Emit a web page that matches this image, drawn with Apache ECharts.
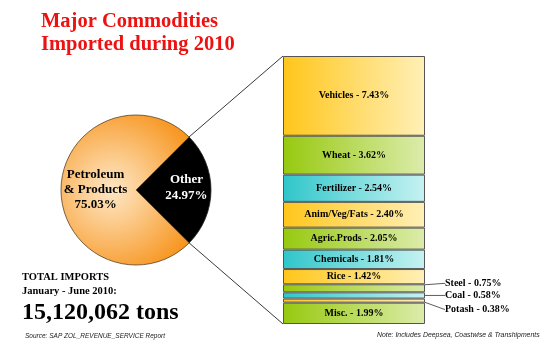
<!DOCTYPE html>
<html>
<head>
<meta charset="utf-8">
<script src="https://cdn.jsdelivr.net/npm/echarts@6/dist/echarts.min.js"></script>
<style>html,body{margin:0;padding:0;background:#fff}#c{width:557px;height:345px}</style>
</head>
<body>
<div id="c"></div>
<script>
// ---- data ----
var pieNames = ['Other', 'Petroleum\n& Products'];
var pieValues = [24.97, 75.03];
var barNames = ['Vehicles', 'Wheat', 'Fertilizer', 'Anim/Veg/Fats', 'Agric.Prods', 'Chemicals', 'Rice', 'Steel', 'Coal', 'Potash', 'Misc.'];
var barValues = [7.43, 3.62, 2.54, 2.40, 2.05, 1.81, 1.42, 0.75, 0.58, 0.38, 1.99];
var barColorKeys = ['y', 'g', 't', 'y', 'g', 't', 'y', 'g', 't', 'y', 'g'];
var outsideLabels = ['Steel', 'Coal', 'Potash'];
var totalTons = '15,120,062';

// ---- styles ----
var SERIF = '"Liberation Serif","Times New Roman",serif';
var grads = {
  y: ['#ffc61a', '#fff0b8'],
  g: ['#97c90f', '#dcecab'],
  t: ['#2fc6ca', '#c6f2f2']
};
var labelDy = {Steel: -5, Coal: 0, Potash: 9};

var pieCenter = [136, 190], pieR = 75;
var gridLeft = 283, gridTop = 56, gridW = 142, gridH = 268;
var barTotal = barValues.reduce(function (a, b) { return a + b; }, 0);

var chart = echarts.init(document.getElementById('c'), null, {renderer: 'canvas'});

var series = [];
series.push({
  type: 'pie',
  center: pieCenter,
  radius: pieR,
  startAngle: 45,
  clockwise: true,
  silent: true,
  animation: false,
  label: {show: true, position: 'inside', fontFamily: SERIF, fontWeight: 'bold'},
  labelLine: {show: false},
  data: pieNames.map(function (n, i) {
    var isOther = i === 0;
    return {
      name: n,
      value: pieValues[i],
      itemStyle: isOther ? {color: '#000', borderColor: '#222', borderWidth: 0.8} : {
        color: new echarts.graphic.RadialGradient(112, 190, 92, [
          {offset: 0, color: '#fde6c4'},
          {offset: 0.3, color: '#fcd096'},
          {offset: 1, color: '#f7941d'}
        ], true),
        borderColor: '#5a4020', borderWidth: 0.8
      },
      label: isOther ? {
        color: '#fff', fontSize: 13, lineHeight: 16, offset: [10, -2],
        formatter: function (p) { return p.name + '\n' + p.value.toFixed(2) + '%'; }
      } : {
        color: '#000', fontSize: 13, lineHeight: 15, offset: [0, 0],
        formatter: function (p) { return p.name + '\n' + p.value.toFixed(2) + '%'; }
      }
    };
  })
});

barNames.forEach(function (n, i) {
  var c = grads[barColorKeys[i]];
  var outside = outsideLabels.indexOf(n) >= 0;
  var s = {
    type: 'bar',
    name: n,
    stack: 'other',
    barWidth: '100%',
    silent: true,
    animation: false,
    data: [barValues[i]],
    itemStyle: {
      color: new echarts.graphic.LinearGradient(0, 0, 1, 0, [
        {offset: 0, color: c[0]}, {offset: 1, color: c[1]}
      ]),
      borderColor: '#555', borderWidth: 1
    },
    label: {
      show: true,
      position: outside ? 'right' : 'inside',
      distance: outside ? 20 : 5,
      fontFamily: SERIF, fontWeight: 'bold', fontSize: 10, color: '#000',
      formatter: function (p) { return p.seriesName + ' - ' + p.value.toFixed(2) + '%'; }
    }
  };
  if (outside) {
    s.labelLine = {show: true, lineStyle: {color: '#333', width: 0.8}};
    s.labelLayout = {dy: labelDy[n]};
  }
  series.push(s);
});

var option = {
  animation: false,
  backgroundColor: '#fff',
  title: [
    {text: 'Major Commodities\nImported during 2010', left: 36, top: 5,
      textStyle: {fontFamily: SERIF, fontWeight: 'bold', fontSize: 20.5, lineHeight: 23, color: '#ee1111'}},
    {text: 'TOTAL IMPORTS\nJanuary - June 2010:', left: 17, top: 265,
      textStyle: {fontFamily: SERIF, fontWeight: 'bold', fontSize: 10.5, lineHeight: 14, color: '#000'}},
    {text: totalTons + ' tons', left: 17, top: 296,
      textStyle: {fontFamily: SERIF, fontWeight: 'bold', fontSize: 24, color: '#000'}},
    {text: 'Source: SAP ZOL_REVENUE_SERVICE Report', left: 20, top: 328,
      textStyle: {fontFamily: '"Liberation Sans",Arial,sans-serif', fontStyle: 'italic', fontWeight: 'normal', fontSize: 6.5, color: '#222'}},
    {text: 'Note: Includes Deepsea, Coastwise & Transhipments', left: 372, top: 327,
      textStyle: {fontFamily: '"Liberation Sans",Arial,sans-serif', fontStyle: 'italic', fontWeight: 'normal', fontSize: 6.9, color: '#222'}}
  ],
  grid: {left: gridLeft, top: gridTop, width: gridW, height: gridH, containLabel: false},
  xAxis: {type: 'category', data: ['Other'], show: false},
  yAxis: {type: 'value', min: 0, max: barTotal, inverse: true, show: false},
  series: series
};
chart.setOption(option);

// connector lines from pie "Other" slice edges to the bar's corners
var a1 = 45 * Math.PI / 180;
var a2 = (45 - 360 * pieValues[0] / (pieValues[0] + pieValues[1])) * Math.PI / 180;
var yTop = chart.convertToPixel({yAxisIndex: 0}, 0);
var yBot = chart.convertToPixel({yAxisIndex: 0}, barTotal);
var xc = chart.convertToPixel({xAxisIndex: 0}, 'Other');
var xLeft = xc - gridW / 2;
chart.setOption({
  graphic: [
    {type: 'line', silent: true, shape: {x1: pieCenter[0] + pieR * Math.cos(a1), y1: pieCenter[1] - pieR * Math.sin(a1), x2: xLeft, y2: yTop},
      style: {stroke: '#222', lineWidth: 0.9}},
    {type: 'line', silent: true, shape: {x1: pieCenter[0] + pieR * Math.cos(a2), y1: pieCenter[1] - pieR * Math.sin(a2), x2: xLeft, y2: yBot},
      style: {stroke: '#222', lineWidth: 0.9}}
  ]
});
</script>
</body>
</html>
